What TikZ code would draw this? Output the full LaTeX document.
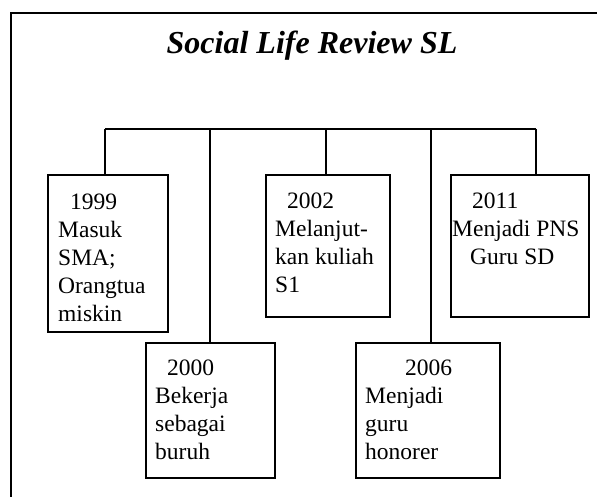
\documentclass[tikz,border=0pt]{standalone}
\usepackage{fontspec}
\setmainfont{Liberation Serif}
\begin{document}
\begin{tikzpicture}[x=1pt,y=-1pt,
  box/.style={draw,line width=1.5pt,minimum width=#1,inner sep=0pt},
  conn/.style={line width=1.5pt},
  txt/.style={anchor=north west,inner sep=0pt,align=left,font=\fontsize{23.5}{28}\selectfont}]
\useasboundingbox (0,0) rectangle (597,497);
\fill[white] (0,0) rectangle (597,497);
\draw[line width=2pt] (597,13) -- (11,13) -- (11,497);
\node[anchor=base,font=\fontsize{32}{38}\selectfont\bfseries\itshape] (title) at (312,54) {Social Life Review SL};
% boxes
\node[box=120pt,minimum height=157pt] (b1999) at (108,253.5) {};
\node[box=129pt,minimum height=135pt] (b2000) at (210.5,410.5) {};
\node[box=124pt,minimum height=142pt] (b2002) at (328,246) {};
\node[box=144pt,minimum height=135pt] (b2006) at (428,410.5) {};
\node[box=138pt,minimum height=142pt] (b2011) at (520,246) {};
% connectors
\coordinate (j1) at (105,129);
\coordinate (j2) at (210,129);
\coordinate (j3) at (326,129);
\coordinate (j4) at (431,129);
\coordinate (j5) at (536,129);
\draw[conn] (j1) -- (j5);
\draw[conn] (j1) -- (j1 |- b1999.north);
\draw[conn] (j2) -- (j2 |- b2000.north);
\draw[conn] (j3) -- (j3 |- b2002.north);
\draw[conn] (j4) -- (j4 |- b2006.north);
\draw[conn] (j5) -- (j5 |- b2011.north);
% texts
\node[txt] (t1999) at (58,189.4) {\strut\hspace{12pt}1999\\Masuk\\SMA;\\Orangtua\\miskin};
\node[txt] (t2000) at (155,355.4) {\strut\hspace{12pt}2000\\Bekerja\\sebagai\\buruh};
\node[txt] (t2002) at (275,188.4) {\strut\hspace{12pt}2002\\Melanjut-\\kan kuliah\\S1};
\node[txt] (t2006) at (365,355.4) {\strut\hspace{40pt}2006\\Menjadi\\guru\\honorer};
\node[txt] (t2011) at (452,188.4) {\strut\hspace{20pt}2011\\Menjadi PNS\\\hspace{18pt}Guru SD};
\end{tikzpicture}
\end{document}
